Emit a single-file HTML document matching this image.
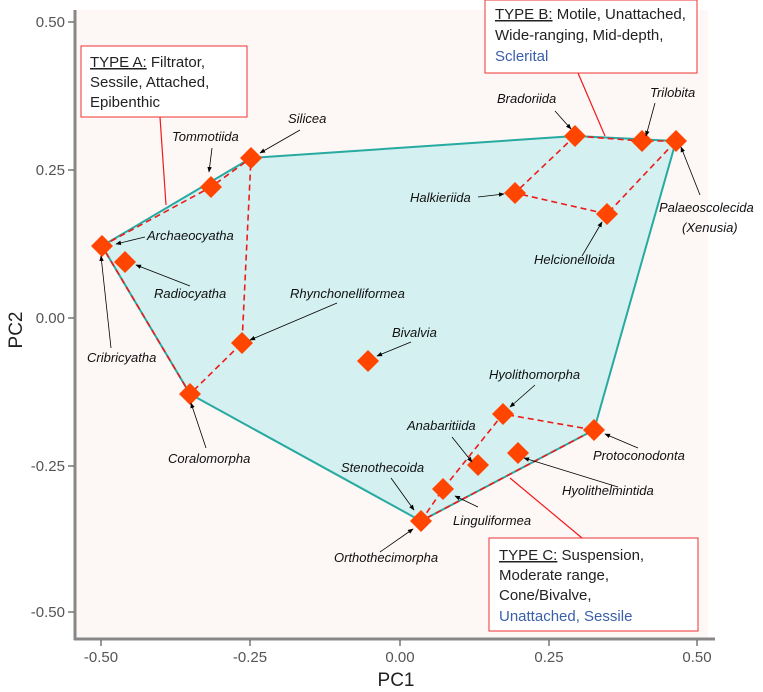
<!DOCTYPE html>
<html><head><meta charset="utf-8"><style>
body{margin:0;background:#fff;}
svg{display:block;font-family:"Liberation Sans",sans-serif;}
.l{font-size:13px;font-style:italic;fill:#111;}
.t{font-size:15px;fill:#555;}
.b{font-size:15px;fill:#222;}
</style></head><body>
<svg width="763" height="692" viewBox="0 0 763 692">
<defs><marker id="a" viewBox="0 0 10 10" refX="9" refY="5" markerWidth="7" markerHeight="7" orient="auto"><path d="M0,1 L10,5 L0,9 z" fill="#000"/></marker></defs>
<rect x="75" y="10" width="633" height="628" fill="#fdf7f6"/>
<polygon points="102,246 251,158 575,136 676,141 594,430 421,521 190,394" fill="#d4f0f0" stroke="#27aaa0" stroke-width="2"/>
<g fill="none" stroke="#f01a1a" stroke-width="1.6" stroke-dasharray="6,4">
<polyline points="102,246 211,187 251,158 242,343 190,394 102,246"/>
<polyline points="575,136 515,193 607,214 676,141 642,141 575,136"/>
<polyline points="421,521 443,489 503,414 594,430 421,521"/>
</g>
<g stroke="#f01a1a" stroke-width="1.2">
<line x1="160" y1="117" x2="166" y2="205"/>
<line x1="578" y1="73" x2="605" y2="136"/>
<line x1="510" y1="478" x2="582" y2="538"/>
</g>
<g fill="#ff4500">
<path d="M102,235l11,11-11,11-11-11z"/><path d="M125,251l11,11-11,11-11-11z"/>
<path d="M211,176l11,11-11,11-11-11z"/><path d="M251,147l11,11-11,11-11-11z"/>
<path d="M242,332l11,11-11,11-11-11z"/><path d="M190,383l11,11-11,11-11-11z"/>
<path d="M368,350l11,11-11,11-11-11z"/><path d="M575,125l11,11-11,11-11-11z"/>
<path d="M642,130l11,11-11,11-11-11z"/><path d="M676,130l11,11-11,11-11-11z"/>
<path d="M515,182l11,11-11,11-11-11z"/><path d="M607,203l11,11-11,11-11-11z"/>
<path d="M503,403l11,11-11,11-11-11z"/><path d="M594,419l11,11-11,11-11-11z"/>
<path d="M478,454l11,11-11,11-11-11z"/><path d="M518,442l11,11-11,11-11-11z"/>
<path d="M443,478l11,11-11,11-11-11z"/><path d="M421,510l11,11-11,11-11-11z"/>
</g>
<g stroke="#000" stroke-width="0.8" marker-end="url(#a)">
<line x1="145" y1="237" x2="116" y2="244"/><line x1="190" y1="286" x2="136" y2="265"/>
<line x1="212" y1="148" x2="209" y2="172"/><line x1="300" y1="130" x2="260" y2="153"/>
<line x1="111" y1="348" x2="101" y2="256"/><line x1="337" y1="303" x2="250" y2="340"/>
<line x1="411" y1="342" x2="377" y2="356"/><line x1="206" y1="448" x2="191" y2="403"/>
<line x1="555" y1="111" x2="571" y2="129"/><line x1="655" y1="103" x2="646" y2="136"/>
<line x1="700" y1="195" x2="681" y2="147"/><line x1="478" y1="197" x2="504" y2="194"/>
<line x1="582" y1="256" x2="602" y2="222"/><line x1="535" y1="385" x2="510" y2="407"/>
<line x1="638" y1="448" x2="605" y2="434"/><line x1="452" y1="437" x2="472" y2="462"/>
<line x1="618" y1="487" x2="524" y2="458"/><line x1="478" y1="507" x2="455" y2="496"/>
<line x1="391" y1="478" x2="414" y2="510"/><line x1="380" y1="552" x2="413" y2="529"/>
</g>
<g class="l">
<text x="147" y="240">Archaeocyatha</text><text x="154" y="298">Radiocyatha</text>
<text x="172" y="141">Tommotiida</text><text x="288" y="123">Silicea</text>
<text x="87" y="362">Cribricyatha</text><text x="290" y="298">Rhynchonelliformea</text>
<text x="392" y="337">Bivalvia</text><text x="168" y="463">Coralomorpha</text>
<text x="497" y="103">Bradoriida</text><text x="650" y="97">Trilobita</text>
<text x="659" y="212">Palaeoscolecida</text><text x="682" y="232">(Xenusia)</text>
<text x="410" y="202">Halkieriida</text><text x="534" y="264">Helcionelloida</text>
<text x="489" y="379">Hyolithomorpha</text><text x="593" y="460">Protoconodonta</text>
<text x="407" y="430">Anabaritiida</text><text x="562" y="495">Hyolithelmintida</text>
<text x="341" y="472">Stenothecoida</text><text x="453" y="525">Linguliformea</text>
<text x="334" y="562">Orthothecimorpha</text>
</g>
<rect x="81" y="46" width="166" height="71" fill="#fff" stroke="#f03030"/>
<text class="b" x="90" y="67"><tspan text-decoration="underline">TYPE A:</tspan> Filtrator,</text>
<text class="b" x="90" y="87">Sessile, Attached,</text><text class="b" x="90" y="107">Epibenthic</text>
<rect x="485" y="0" width="212" height="73" fill="#fff" stroke="#f03030"/>
<text class="b" x="495" y="19"><tspan text-decoration="underline">TYPE B:</tspan> Motile, Unattached,</text>
<text class="b" x="495" y="40">Wide-ranging, Mid-depth,</text><text class="b" x="495" y="61" style="fill:#3a5fa8">Sclerital</text>
<rect x="489" y="538" width="209" height="93" fill="#fff" stroke="#f03030"/>
<text class="b" x="499" y="560"><tspan text-decoration="underline">TYPE C:</tspan> Suspension,</text>
<text class="b" x="499" y="580">Moderate range,</text><text class="b" x="499" y="600">Cone/Bivalve,</text>
<text class="b" x="499" y="621" style="fill:#3a5fa8">Unattached, Sessile</text>
<line x1="75" y1="10" x2="75" y2="640" stroke="#888" stroke-width="3"/>
<line x1="74" y1="639" x2="715" y2="639" stroke="#888" stroke-width="3"/>
<g stroke="#555" stroke-width="1.2">
<line x1="68" y1="22" x2="74" y2="22"/><line x1="68" y1="170" x2="74" y2="170"/><line x1="68" y1="318" x2="74" y2="318"/><line x1="68" y1="466" x2="74" y2="466"/><line x1="68" y1="612" x2="74" y2="612"/>
<line x1="101" y1="640" x2="101" y2="646"/><line x1="250" y1="640" x2="250" y2="646"/><line x1="400" y1="640" x2="400" y2="646"/><line x1="549" y1="640" x2="549" y2="646"/><line x1="697" y1="640" x2="697" y2="646"/>
</g>
<g class="t" text-anchor="end">
<text x="65" y="27">0.50</text><text x="65" y="175">0.25</text><text x="65" y="323">0.00</text><text x="65" y="471">-0.25</text><text x="65" y="617">-0.50</text>
</g>
<g class="t" text-anchor="middle">
<text x="101" y="662">-0.50</text><text x="250" y="662">-0.25</text><text x="400" y="662">0.00</text><text x="549" y="662">0.25</text><text x="697" y="662">0.50</text>
</g>
<text x="396" y="686" text-anchor="middle" font-size="19" fill="#222">PC1</text>
<text transform="translate(22,330) rotate(-90)" text-anchor="middle" font-size="19" fill="#222">PC2</text>
</svg>
</body></html>
